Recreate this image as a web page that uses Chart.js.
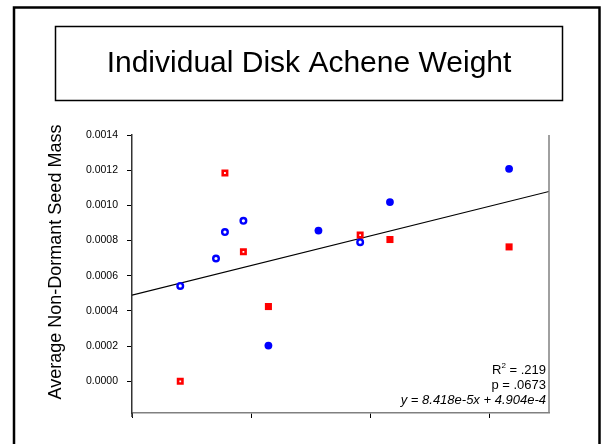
<!DOCTYPE html>
<html>
<head>
<meta charset="utf-8">
<script src="https://cdn.jsdelivr.net/npm/chart.js@4/dist/chart.umd.min.js"></script>
<style>
  body { margin: 0; background: #fff; }
  canvas { display: block; }
</style>
</head>
<body>
<canvas id="seedChart" width="602" height="444"></canvas>
<script>
// values
const openCircleX = [0.81, 1.41, 1.56, 1.87, 3.83];
const openCircleY = [0.000542, 0.000698, 0.000848, 0.000912, 0.000791];
const filledCircleX = [2.29, 3.13, 4.33, 6.33];
const filledCircleY = [0.000203, 0.000857, 0.001019, 0.001208];
const openSquareX = [0.81, 1.56, 1.87, 3.83];
const openSquareY = [0.0, 0.001184, 0.000736, 0.000831];
const filledSquareX = [2.29, 4.33, 6.33];
const filledSquareY = [0.000425, 0.000806, 0.000764];
// fitted line end points
const trendX = [0, 7];
const trendY = [0.00049, 0.001079];

const xTicks = [0, 2, 4, 6];
const yTicks = [0, 0.0002, 0.0004, 0.0006, 0.0008, 0.001, 0.0012, 0.0014];

const titleText = "Individual Disk Achene Weight";
const yTitle = "Average Non-Dormant Seed Mass";
const statsLines = ["R", "p = .0673", "y = 8.418e-5x + 4.904e-4"];

function pts(xs, ys) {
  return xs.map((x, i) => ({ x: x, y: ys[i] }));
}

const framePlugin = {
  id: "frames",
  beforeDraw(chart) {
    const ctx = chart.ctx;
    ctx.save();
    ctx.fillStyle = "#fff";
    ctx.fillRect(0, 0, chart.width, chart.height);
    // outer frame
    ctx.strokeStyle = "#000";
    ctx.lineWidth = 2.5;
    ctx.strokeRect(14, 7.5, 585.5, 450);
    // title box
    ctx.lineWidth = 1.5;
    ctx.strokeRect(55.5, 26.5, 507, 74);
    ctx.fillStyle = "#000";
    ctx.font = "30px Arial, 'Liberation Sans'";
    ctx.textAlign = "center";
    ctx.textBaseline = "middle";
    ctx.fillText(titleText, 309, 64);
    // y axis title
    ctx.save();
    ctx.translate(56, 262);
    ctx.rotate(-Math.PI / 2);
    ctx.font = "18px Arial, 'Liberation Sans'";
    ctx.fillText(yTitle, 0, 0);
    ctx.restore();
    ctx.restore();
  },
  afterDraw(chart) {
    const ctx = chart.ctx;
    const a = chart.chartArea;
    ctx.save();
    // right edge of the plot area
    ctx.strokeStyle = "#808080";
    ctx.lineWidth = 1.5;
    ctx.beginPath();
    ctx.moveTo(a.right, a.top);
    ctx.lineTo(a.right, a.bottom);
    ctx.stroke();
    // y axis runs a little past the x axis
    ctx.strokeStyle = "#333";
    ctx.beginPath();
    ctx.moveTo(a.left, a.bottom);
    ctx.lineTo(a.left, a.bottom + 4);
    ctx.stroke();

    const rx = a.right - 3;
    ctx.fillStyle = "#000";
    ctx.textAlign = "right";
    ctx.textBaseline = "alphabetic";
    ctx.font = "13px Arial, 'Liberation Sans'";
    // R² line
    const rest = " = .219";
    const restW = ctx.measureText(rest).width;
    ctx.fillText(rest, rx, 374);
    ctx.font = "8px Arial, 'Liberation Sans'";
    const supW = ctx.measureText("2").width;
    ctx.fillText("2", rx - restW, 368);
    ctx.font = "13px Arial, 'Liberation Sans'";
    ctx.fillText(statsLines[0], rx - restW - supW, 374);
    ctx.fillText(statsLines[1], rx, 389);
    ctx.font = "italic 13px Arial, 'Liberation Sans'";
    ctx.fillText(statsLines[2], rx, 403.5);
    ctx.restore();
  }
};

new Chart(document.getElementById("seedChart"), {
  type: "scatter",
  data: {
    datasets: [
      {
        data: pts(openSquareX, openSquareY),
        pointStyle: "rect",
        pointRadius: 3.1,
        pointBorderWidth: 2.6,
        borderColor: "#ff0000",
        backgroundColor: "#ffffff",
      },
      {
        data: pts(filledSquareX, filledSquareY),
        pointStyle: "rect",
        pointRadius: 5,
        pointBorderWidth: 0,
        borderColor: "#ff0000",
        backgroundColor: "#ff0000",
      },
      {
        data: pts(openCircleX, openCircleY),
        pointStyle: "circle",
        pointRadius: 2.8,
        pointBorderWidth: 2.4,
        borderColor: "#0000ff",
        backgroundColor: "#ffffff",
      },
      {
        data: pts(filledCircleX, filledCircleY),
        pointStyle: "circle",
        pointRadius: 3.9,
        pointBorderWidth: 0,
        borderColor: "#0000ff",
        backgroundColor: "#0000ff",
      },
      {
        type: "line",
        data: pts(trendX, trendY),
        borderColor: "#000",
        borderWidth: 1.2,
        pointRadius: 0,
        showLine: true,
        order: 1,
      },
    ],
  },
  options: {
    responsive: false,
    animation: false,
    layout: { padding: { top: 135, right: 53, bottom: 0, left: 0 } },
    plugins: {
      legend: { display: false },
      tooltip: { enabled: false },
    },
    scales: {
      x: {
        type: "linear",
        min: 0,
        max: 7,
        afterBuildTicks: (axis) => { axis.ticks = xTicks.map((v) => ({ value: v })); },
        afterFit: (axis) => { axis.height = 31; },
        ticks: { display: false },
        grid: { drawOnChartArea: false, drawTicks: true, tickLength: 5, color: "#000" },
        border: { display: true, color: "#808080", width: 1.5 },
      },
      y: {
        type: "linear",
        min: -0.00018,
        max: 0.0014,
        afterBuildTicks: (axis) => { axis.ticks = yTicks.map((v) => ({ value: v })); },
        afterFit: (axis) => { axis.width = 132; },
        ticks: {
          color: "#000",
          padding: 9,
          font: { family: "Arial, 'Liberation Sans'", size: 10.5 },
          callback: (v) => v.toFixed(4),
        },
        grid: { drawOnChartArea: false, drawTicks: true, tickLength: 5, color: "#000" },
        border: { display: true, color: "#333", width: 1.5 },
      },
    },
  },
  plugins: [framePlugin],
});
</script>
</body>
</html>
